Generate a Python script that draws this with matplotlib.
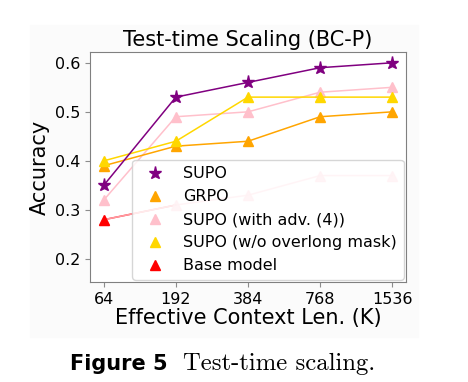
import matplotlib
matplotlib.use("Agg")
import matplotlib.pyplot as plt
from matplotlib.patches import Rectangle

ctx_labels = ["64", "192", "384", "768", "1536"]
supo = [0.35, 0.53, 0.56, 0.59, 0.60]
grpo = [0.39, 0.43, 0.44, 0.49, 0.50]
supo_adv4 = [0.32, 0.49, 0.50, 0.54, 0.55]
supo_no_mask = [0.40, 0.44, 0.53, 0.53, 0.53]
supo_adv4_low = [0.28, 0.31, 0.33, 0.37, 0.37]
base_model = [0.28]

x = list(range(len(ctx_labels)))

fig = plt.figure(figsize=(4.68, 3.82), dpi=100)
fig.patches.append(Rectangle((30 / 468, 1 - 337 / 382), 388 / 468, 312 / 382,
                             transform=fig.transFigure, color="#fbfbfb", zorder=-5))
ax = fig.add_axes([90 / 468, 1 - 282 / 382, 316 / 468, 230 / 382])
ax.set_facecolor("white")

ms_tri = 7.5
ms_star = 9.5
lw = 1.1
ax.plot(x[:2], supo_adv4_low[:2], color="red", lw=lw, zorder=2)
ax.plot(x, supo_adv4_low, color="pink", lw=lw, marker="^", ms=ms_tri, alpha=0.8, zorder=3)
ax.plot(x, supo_adv4, color="pink", lw=lw, marker="^", ms=ms_tri, zorder=3)
ax.plot(x, grpo, color="orange", lw=lw, marker="^", ms=ms_tri, zorder=3)
ax.plot(x, supo_no_mask, color="gold", lw=lw, marker="^", ms=ms_tri, zorder=3)
ax.plot(x, supo, color="purple", lw=lw, marker="*", ms=ms_star, zorder=4)
ax.plot(x[:1], base_model, color="red", ls="none", marker="^", ms=ms_tri, zorder=5)

handles = [
    plt.Line2D([], [], color="purple", marker="*", ls="none", ms=ms_star, label="SUPO"),
    plt.Line2D([], [], color="orange", marker="^", ls="none", ms=ms_tri, label="GRPO"),
    plt.Line2D([], [], color="pink", marker="^", ls="none", ms=ms_tri, label="SUPO (with adv. (4))"),
    plt.Line2D([], [], color="gold", marker="^", ls="none", ms=ms_tri, label="SUPO (w/o overlong mask)"),
    plt.Line2D([], [], color="red", marker="^", ls="none", ms=ms_tri, label="Base model"),
]
ax.legend(handles=handles, loc="lower right", fontsize=11.5, borderaxespad=0.15)

ax.set_xticks(x)
ax.set_xticklabels(ctx_labels)
ax.set_xlim(-0.19, 4.19)
ax.set_yticks([0.2, 0.3, 0.4, 0.5, 0.6])
ax.set_ylim(0.153, 0.622)
ax.tick_params(labelsize=11.5, color="0.55")
for s in ax.spines.values():
    s.set_color("0.5")

ax.set_title("Test-time Scaling (BC-P)", fontsize=15, pad=4)
ax.set_xlabel("Effective Context Len. (K)", fontsize=15, labelpad=1)
ax.set_ylabel("Accuracy", fontsize=15, labelpad=4)

fig.text(70 / 468, 1 - 370 / 382, "Figure 5", fontsize=15, fontweight="bold",
         family="DejaVu Sans", va="baseline")
fig.text(183 / 468, 1 - 370 / 382, "Test-time scaling.", fontsize=17.8,
         family="cmr10", va="baseline")

fig.savefig("out.png", dpi=100)
